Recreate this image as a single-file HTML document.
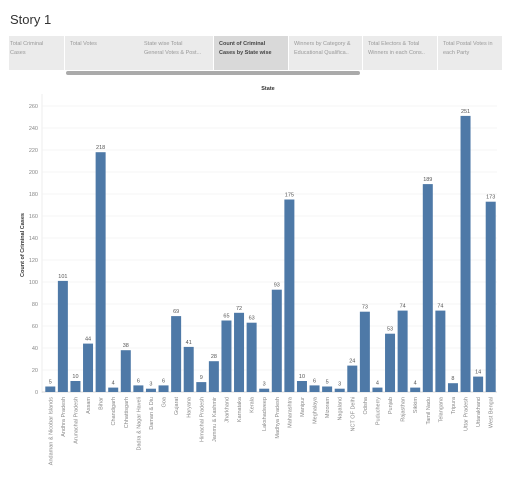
<!DOCTYPE html>
<html><head><meta charset="utf-8"><style>
body{margin:0;background:#fff;font-family:"Liberation Sans",sans-serif;}
#wrap{position:relative;width:522px;height:502px;overflow:hidden;}
.tab{position:absolute;top:36px;height:34px;background:#ebebeb;font-size:5.5px;color:#999;padding:4px 0 0 1px;box-sizing:border-box;line-height:9px;}
</style></head><body>
<div id="wrap">
<div style="position:absolute;left:10px;top:12px;font-size:13px;color:#333;">Story 1</div>
<div class="tab" style="left:9px;width:55px;">Total Criminal<br>Cases</div>
<div class="tab" style="left:65px;width:74px;padding-left:5px;">Total Votes</div>
<div class="tab" style="left:139px;width:74px;padding-left:5px;">State wise Total<br>General Votes &amp; Post...</div>
<div class="tab" style="left:214px;width:74px;padding-left:5px;background:#d9d9d9;color:#444;font-weight:bold;">Count of Criminal<br>Cases by State wise</div>
<div class="tab" style="left:289px;width:73px;padding-left:5px;">Winners by Category &amp;<br>Educational Qualifica..</div>
<div class="tab" style="left:363px;width:74px;padding-left:5px;">Total Electors &amp; Total<br>Winners in each Cons..</div>
<div class="tab" style="left:438px;width:64px;padding-left:5px;">Total Postal Votes in<br>each Party</div>
<div style="position:absolute;left:66px;top:71px;width:294px;height:4px;border-radius:2px;background:#aaa;"></div>
<svg id="chart" width="522" height="502" style="position:absolute;left:0;top:0"></svg>
</div>
<script>
const states=["Andaman & Nicobar Islands","Andhra Pradesh","Arunachal Pradesh","Assam","Bihar","Chandigarh","Chhattisgarh","Dadra & Nagar Haveli","Daman & Diu","Goa","Gujarat","Haryana","Himachal Pradesh","Jammu & Kashmir","Jharkhand","Karnataka","Kerala","Lakshadweep","Madhya Pradesh","Maharashtra","Manipur","Meghalaya","Mizoram","Nagaland","NCT OF Delhi","Odisha","Puducherry","Punjab","Rajasthan","Sikkim","Tamil Nadu","Telangana","Tripura","Uttar Pradesh","Uttarakhand","West Bengal"];
const counts=[5,101,10,44,218,4,38,6,3,6,69,41,9,28,65,72,63,3,93,175,10,6,5,3,24,73,4,53,74,4,189,74,8,251,14,173];
const yTicks=[0,20,40,60,80,100,120,140,160,180,200,220,240,260];
const NS="http://www.w3.org/2000/svg";
const svg=document.getElementById('chart');
const x0=44,x1=497,yBase=392,yTop=106,yMax=260;
const step=(x1-x0)/states.length,bw=10;
const y=v=>yBase-(v/yMax)*(yBase-yTop);
const xc=i=>x0+step*(i+0.5);
function mk(t,a){const e=document.createElementNS(NS,t);for(const k in a)e.setAttribute(k,a[k]);svg.appendChild(e);return e;}
let e;
e=mk('text',{x:268,y:90,'font-size':5.5,'font-weight':'bold',fill:'#333','text-anchor':'middle'});e.textContent='State';


e=mk('text',{x:0,y:0,'font-size':5.5,'font-weight':'bold',fill:'#333','text-anchor':'middle',transform:'translate(24,245) rotate(-90)'});e.textContent='Count of Criminal Cases';


mk('line',{x1:x0-2,x2:x0-2,y1:yTop-12,y2:yBase+1,stroke:'#e6e6e6','stroke-width':0.7});
yTicks.forEach(t=>{
 const l=mk('line',{x1:x0-2,x2:x1,y1:y(t),y2:y(t),stroke:t===0?'#ccc':'#f0f0f0','stroke-width':0.7});
 
 
 const tx=mk('text',{x:38,y:y(t)+2,'font-size':5.5,fill:'#888','text-anchor':'end'});tx.textContent=t;
 
 
});
states.forEach((s,i)=>{
 const v=counts[i],cx=xc(i);
 const r=mk('rect',{x:cx-bw/2,y:y(v),width:bw,height:yBase-y(v),fill:'#4e79a7'});
 
 
 const lb=mk('text',{x:cx,y:y(v)-3,'font-size':5.5,fill:'#555','text-anchor':'middle'});lb.textContent=v;
 
 
 const xl=mk('text',{x:0,y:0,'font-size':5.5,fill:'#888','text-anchor':'end',transform:`translate(${cx+2},397) rotate(-90)`});xl.textContent=s;
 
 
});
</script>
</body></html>
